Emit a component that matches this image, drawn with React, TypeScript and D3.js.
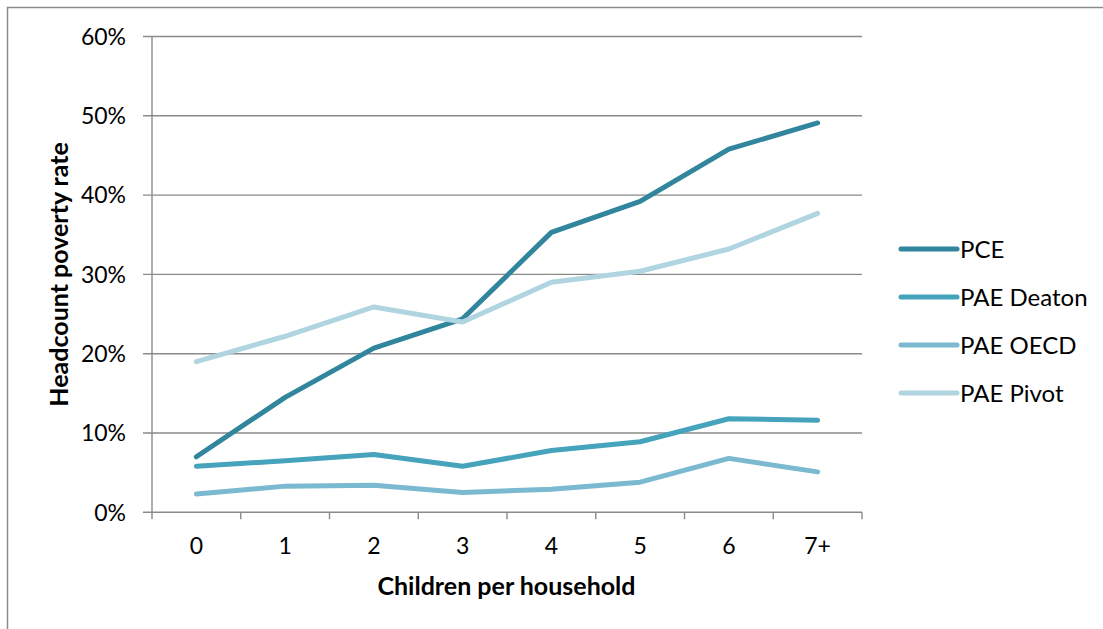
import React from "react";
import * as d3 from "d3";

// Children per household (x categories)
const categories: string[] = ["0", "1", "2", "3", "4", "5", "6", "7+"];

// Headcount poverty rate (fraction) by equivalence method
const pce: number[] = [0.07, 0.145, 0.207, 0.244, 0.353, 0.392, 0.458, 0.491];
const paeDeaton: number[] = [0.058, 0.065, 0.073, 0.058, 0.078, 0.089, 0.118, 0.116];
const paeOecd: number[] = [0.023, 0.033, 0.034, 0.025, 0.029, 0.038, 0.068, 0.051];
const paePivot: number[] = [0.19, 0.222, 0.259, 0.24, 0.29, 0.304, 0.332, 0.377];

const seriesNames: string[] = ["PCE", "PAE Deaton", "PAE OECD", "PAE Pivot"];
const seriesColors: string[] = ["#31859C", "#45A3BB", "#7AB9CF", "#B1D5E0"];
const yTicks: number[] = [0, 0.1, 0.2, 0.3, 0.4, 0.5, 0.6];

const W = 1103;
const H = 629;
const FONT = "Lato, 'Open Sans', sans-serif";
const GRID = "#8a8a8a";

export default function App() {
  const plot = { left: 152, right: 862, top: 36.5, bottom: 512.3 };
  const x = d3
    .scaleBand<string>()
    .domain(categories)
    .range([plot.left, plot.right])
    .padding(0);
  const y = d3.scaleLinear().domain([0, 0.6]).range([plot.bottom, plot.top]);
  const cx = (c: string) => (x(c) ?? 0) + x.bandwidth() / 2;

  const line = d3
    .line<number>()
    .x((_, i) => cx(categories[i]))
    .y((d) => y(d));

  const allSeries = [pce, paeDeaton, paeOecd, paePivot];
  const fmt = d3.format(".0%");
  const boundaries = [...categories.map((c) => x(c) ?? 0), plot.right];

  const legendX = 901;
  const legendY = [249, 297, 345, 393];

  return (
    <svg
      width={W}
      height={H}
      style={{ position: "absolute", left: 0, top: 0, display: "block", background: "#fff" }}
      fontFamily={FONT}
    >
      {/* chart frame */}
      <rect x={7.5} y={7.5} width={W + 20} height={H + 20} fill="none" stroke="#8c8c8c" strokeWidth={1.5} />

      {/* horizontal gridlines and y ticks */}
      {yTicks.map((t) => (
        <g key={t}>
          <line x1={plot.left - 9} x2={plot.right} y1={y(t)} y2={y(t)} stroke={GRID} strokeWidth={1.4} />
          <text
            x={126}
            y={y(t)}
            dy="0.36em"
            textAnchor="end"
            fontSize={23}
            fill="#000"
          >
            {fmt(t)}
          </text>
        </g>
      ))}

      {/* y axis line */}
      <line x1={plot.left} x2={plot.left} y1={plot.top} y2={plot.bottom} stroke={GRID} strokeWidth={1.4} />

      {/* x ticks */}
      {boundaries.map((bx, i) => (
        <line key={i} x1={bx} x2={bx} y1={plot.bottom} y2={plot.bottom + 7} stroke={GRID} strokeWidth={1.4} />
      ))}

      {/* x labels */}
      {categories.map((c) => (
        <text key={c} x={cx(c)} y={554} textAnchor="middle" fontSize={23} fill="#000">
          {c}
        </text>
      ))}

      {/* series */}
      {allSeries.map((s, i) => (
        <path
          key={seriesNames[i]}
          d={line(s) ?? ""}
          fill="none"
          stroke={seriesColors[i]}
          strokeWidth={5}
          strokeLinecap="round"
          strokeLinejoin="round"
        />
      ))}

      {/* axis titles */}
      <text x={506.5} y={595} textAnchor="middle" fontSize={25} fontWeight="bold" fill="#000">
        Children per household
      </text>
      <text
        transform={`translate(68, ${(plot.top + plot.bottom) / 2}) rotate(-90)`}
        textAnchor="middle"
        fontSize={25}
        fontWeight="bold"
        fill="#000"
      >
        Headcount poverty rate
      </text>

      {/* legend */}
      {seriesNames.map((n, i) => (
        <g key={n}>
          <line
            x1={legendX}
            x2={legendX + 56}
            y1={legendY[i]}
            y2={legendY[i]}
            stroke={seriesColors[i]}
            strokeWidth={5}
            strokeLinecap="round"
          />
          <text x={960} y={legendY[i]} dy="0.36em" fontSize={24} fill="#000">
            {n}
          </text>
        </g>
      ))}
    </svg>
  );
}
